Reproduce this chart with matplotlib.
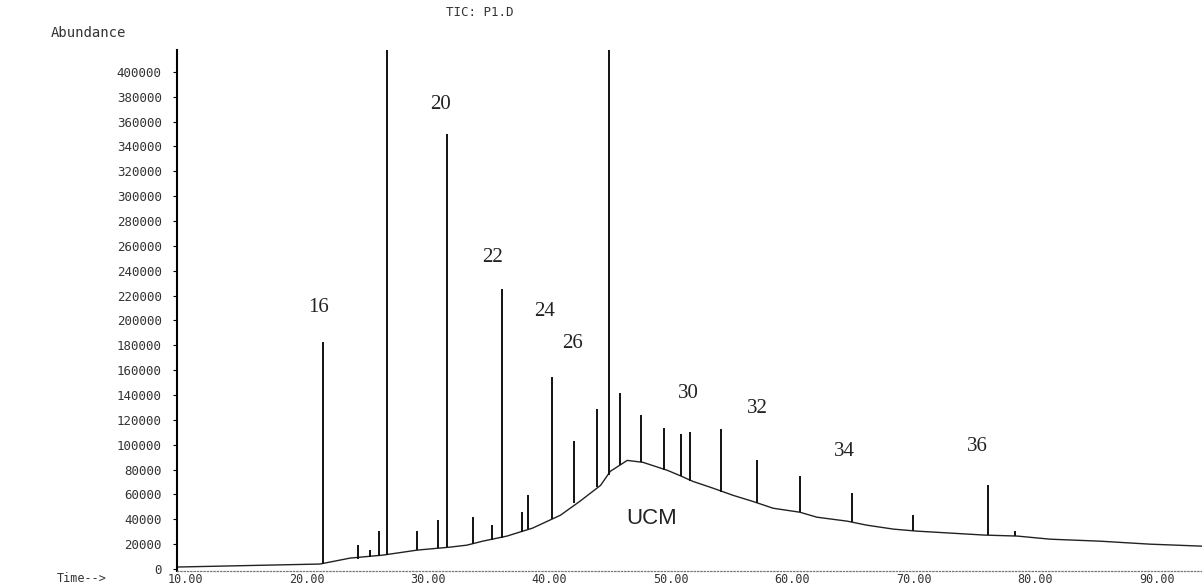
import matplotlib.pyplot as plt

# unresolved hump / baseline of the TIC trace (time in min, abundance)
base_time = [9.4, 21.1, 23.6, 26.3, 29.1, 31.8, 33.2, 34.5, 36.5, 38.6, 40.9,
             42.5, 44.2, 45.0, 46.4, 47.7, 49.7, 50.7, 51.8, 53.5, 55.1, 56.7,
             58.4, 60.6, 62.0, 64.5, 66.1, 68.3, 70.2, 73.0, 75.8, 78.5, 81.2,
             85.3, 89.4, 93.7]
base_abund = [1600, 4000, 8800, 11200, 15200, 17600, 19200, 22400, 26500, 32900,
              43300, 54500, 67300, 78600, 87400, 85800, 79400, 75300, 70500,
              64900, 59300, 54500, 48900, 45700, 41700, 38500, 35300, 32100,
              30500, 28900, 27300, 26500, 24000, 22400, 20000, 18400]

# resolved peaks: retention time, apex, and hump level under the peak
peak_time = [21.36, 24.2, 25.2, 26.0, 26.63, 29.1, 30.8, 31.56, 33.7, 35.3,
             36.1, 37.7, 38.2, 40.2, 42.0, 43.9, 44.9, 45.8, 47.5, 49.4, 50.8,
             51.6, 54.1, 57.1, 60.6, 64.9, 69.9, 76.1, 78.3]
peak_top = [182800, 19200, 15200, 30500, 620000, 30500, 39300, 350000, 41700,
            35300, 225000, 45700, 59300, 154700, 102600, 129100, 620000, 141900,
            124200, 113800, 109000, 110600, 113000, 87400, 74500, 60900, 43300,
            67300, 30500]
peak_base = [4200, 8000, 9500, 10500, 11500, 15200, 17000, 17500, 20000, 23500,
             25000, 30000, 32000, 40000, 53000, 66000, 76000, 84000, 86000,
             80000, 75000, 71000, 62000, 53000, 45700, 38000, 30700, 27200, 26500]

# carbon-number labels
label_text = ["16", "20", "22", "24", "26", "30", "32", "34", "36"]
label_time = [21.0, 31.0, 35.3, 39.6, 41.9, 51.4, 57.1, 64.3, 75.2]
label_abund = [210800, 373500, 251000, 206800, 181200, 141100, 129100, 94600, 98600]

y_ticks = [0, 20000, 40000, 60000, 80000, 100000, 120000, 140000, 160000,
           180000, 200000, 220000, 240000, 260000, 280000, 300000, 320000,
           340000, 360000, 380000, 400000]
x_ticks = [10, 20, 30, 40, 50, 60, 70, 80, 90]

fig = plt.figure(figsize=(12.02, 5.87), dpi=100)
ax = fig.add_axes([177 / 1202, 16 / 587, 1 - 177 / 1202, 521 / 587])

ax.plot(base_time, base_abund, color="#222222", lw=1.0)
ax.vlines(peak_time, peak_base, peak_top, color="#111111", lw=1.4)

for txt, t, a in zip(label_text, label_time, label_abund):
    ax.text(t, a, txt, ha="center", va="center", fontsize=15,
            family="Liberation Serif", color="#222222")
ax.text(48.4, 40900, "UCM", ha="center", va="center", fontsize=16,
        family="Liberation Sans", color="#222222")

ax.set_xlim(9.34, 93.7)
ax.set_ylim(-1600, 417600)

ax.set_yticks(y_ticks)
ax.set_yticklabels([str(v) for v in y_ticks])
ax.set_xticks(x_ticks)
ax.set_xticklabels([f"{v:.2f}" for v in x_ticks])
ax.tick_params(axis="y", length=3, pad=8, labelsize=9, labelcolor="#333333")
ax.tick_params(axis="x", length=0, pad=1.5, labelsize=8.5, labelcolor="#333333")
for lab in ax.get_xticklabels() + ax.get_yticklabels():
    lab.set_family("DejaVu Sans Mono")

ax.spines["top"].set_visible(False)
ax.spines["right"].set_visible(False)
ax.spines["left"].set_linewidth(1.5)
ax.spines["bottom"].set_linestyle(":")
ax.spines["bottom"].set_color("#777777")
ax.spines["bottom"].set_linewidth(0.9)

fig.text(88 / 1202, 1 - 33 / 587, "Abundance", ha="center", va="center",
         fontsize=10, family="DejaVu Sans Mono", color="#333333")
fig.text(480 / 1202, 1 - 13 / 587, "TIC: P1.D", ha="center", va="center",
         fontsize=9, family="DejaVu Sans Mono", color="#333333")
fig.text(57 / 1202, 2 / 587, "Time-->", ha="left", va="bottom",
         fontsize=8.5, family="DejaVu Sans Mono", color="#333333")

fig.savefig("out.png", dpi=100)
